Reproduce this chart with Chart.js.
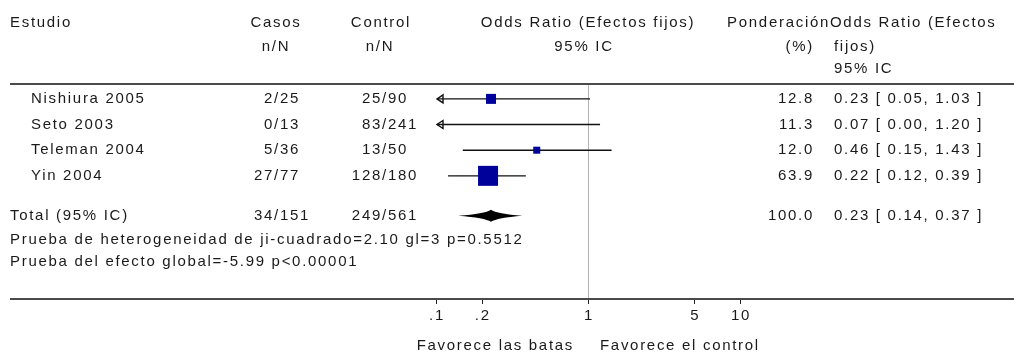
<!DOCTYPE html>
<html>
<head>
<meta charset="utf-8">
<script src="https://cdn.jsdelivr.net/npm/chart.js@4.4.1/dist/chart.umd.min.js"></script>
<style>
  html, body { margin: 0; padding: 0; background: #fff; }
  canvas { display: block; }
</style>
</head>
<body>
<canvas id="forest" width="1014" height="357"></canvas>
<script>
// data
const studies = ["Nishiura 2005", "Seto 2003", "Teleman 2004", "Yin 2004"];
const casos = ["2/25", "0/13", "5/36", "27/77"];
const control = ["25/90", "83/241", "13/50", "128/180"];
const weights = [12.8, 11.3, 12.0, 63.9];
const oddsRatio = [0.23, 0.07, 0.46, 0.22];
const ciLow = [0.05, 0.00, 0.15, 0.12];
const ciHigh = [1.03, 1.20, 1.43, 0.39];

const totalLabel = "Total (95% IC)";
const totalCasos = "34/151";
const totalControl = "249/561";
const totalWeight = 100.0;
const totalOR = 0.23;
const totalLow = 0.14;
const totalHigh = 0.37;

const heterogeneity = "Prueba de heterogeneidad de ji-cuadrado=2.10 gl=3 p=0.5512";
const overallEffect = "Prueba del efecto global=-5.99 p<0.00001";

const tickValues = [0.1, 0.2, 1, 5, 10];
const tickLabels = [".1", ".2", "1", "5", "10"];
const favourLeft = "Favorece las batas";
const favourRight = "Favorece el control";

// styling / layout
const FONT = "15px 'Liberation Sans', Arial, sans-serif";
const SPACING = "1.7px";
const TEXT = "#1a1a1a";
const BOX = "#00009a";
const boxSide = [10, 9, 7, 20]; // square side in px, as drawn in the picture
const totalRow = 5.56, hetRow = 6.49, overallRow = 7.35;
const casosSlash = 276, controlSlash = 384;

const fmt = (v) => v.toFixed(2);

function txt(ctx, s, x, y, align) {
  ctx.textAlign = align || "left";
  ctx.fillText(s, x, y);
}

// n/N drawn aligned on the slash
function frac(ctx, s, xs, y) {
  const [n, d] = s.split("/");
  txt(ctx, n, xs - 2, y, "right");
  txt(ctx, "/", xs + 1, y, "center");
  txt(ctx, d, xs + 4, y);
}

const forestPlugin = {
  id: "forest",
  beforeDatasetsDraw(chart) {
    const { ctx, chartArea: { top, bottom }, scales: { x, y } } = chart;
    ctx.save();
    // no-effect line
    const x1 = Math.round(x.getPixelForValue(1)) + 0.5;
    ctx.strokeStyle = "#b4b4b4";
    ctx.lineWidth = 1;
    ctx.beginPath();
    ctx.moveTo(x1, top);
    ctx.lineTo(x1, bottom);
    ctx.stroke();

    // confidence intervals
    ctx.strokeStyle = "#111";
    ctx.lineWidth = 1.4;
    studies.forEach((s, i) => {
      const yy = y.getPixelForValue(i + 1);
      const clipped = ciLow[i] < x.min;
      const xl = clipped ? x.left + 1 : x.getPixelForValue(ciLow[i]);
      const xr = x.getPixelForValue(Math.min(ciHigh[i], x.max));
      ctx.beginPath();
      ctx.moveTo(xl, yy);
      ctx.lineTo(xr, yy);
      ctx.stroke();
      if (clipped) {
        ctx.beginPath();
        ctx.moveTo(xl + 6, yy - 4);
        ctx.lineTo(xl, yy);
        ctx.lineTo(xl + 6, yy + 4);
        ctx.closePath();
        ctx.stroke();
      }
    });

    // pooled diamond
    const yt = y.getPixelForValue(totalRow);
    const xa = x.getPixelForValue(totalLow);
    const xm = x.getPixelForValue(totalOR);
    const xb = x.getPixelForValue(totalHigh);
    ctx.fillStyle = "#000";
    ctx.beginPath();
    ctx.moveTo(xa, yt);
    ctx.quadraticCurveTo(xm - 6, yt - 2, xm, yt - 6);
    ctx.quadraticCurveTo(xm + 6, yt - 2, xb, yt);
    ctx.quadraticCurveTo(xm + 6, yt + 2, xm, yt + 6);
    ctx.quadraticCurveTo(xm - 6, yt + 2, xa, yt);
    ctx.fill();
    ctx.restore();
  },
  afterDraw(chart) {
    const { ctx, width, chartArea: { top, bottom }, scales: { x, y } } = chart;
    ctx.save();
    // header rule and axis rule
    ctx.strokeStyle = "#4a4a4a";
    ctx.lineWidth = 2;
    ctx.beginPath();
    ctx.moveTo(10, top);
    ctx.lineTo(width, top);
    ctx.moveTo(10, bottom);
    ctx.lineTo(width, bottom);
    ctx.stroke();
    ctx.lineWidth = 1;
    ctx.strokeStyle = "#222";
    tickValues.forEach((v) => {
      const px = Math.round(x.getPixelForValue(v)) + 0.5;
      ctx.beginPath();
      ctx.moveTo(px, bottom + 1);
      ctx.lineTo(px, bottom + 5);
      ctx.stroke();
    });

    ctx.font = FONT;
    ctx.letterSpacing = SPACING;
    ctx.fillStyle = TEXT;
    ctx.textBaseline = "middle";

    // headers
    const h1 = 23, h2 = 47, h3 = 69;
    txt(ctx, "Estudio", 10, h1);
    txt(ctx, "Casos", 276, h1, "center");
    txt(ctx, "n/N", 276, h2, "center");
    txt(ctx, "Control", 381, h1, "center");
    txt(ctx, "n/N", 380, h2, "center");
    const x1 = x.getPixelForValue(1);
    txt(ctx, "Odds Ratio (Efectos fijos)", x1, h1, "center");
    txt(ctx, "95% IC", x1 - 4, h2, "center");
    txt(ctx, "Ponderación", 830, h1, "right");
    txt(ctx, "(%)", 814, h2, "right");
    txt(ctx, "Odds Ratio (Efectos", 830, h1);
    txt(ctx, "fijos)", 834, h2);
    txt(ctx, "95% IC", 834, h3);

    // study rows
    studies.forEach((s, i) => {
      const yy = y.getPixelForValue(i + 1);
      txt(ctx, s, 31, yy);
      frac(ctx, casos[i], casosSlash, yy);
      frac(ctx, control[i], controlSlash, yy);
      txt(ctx, weights[i].toFixed(1), 814, yy, "right");
      txt(ctx, `${fmt(oddsRatio[i])} [ ${fmt(ciLow[i])}, ${fmt(ciHigh[i])} ]`, 834, yy);
    });

    const yt = y.getPixelForValue(totalRow);
    txt(ctx, totalLabel, 10, yt);
    frac(ctx, totalCasos, casosSlash, yt);
    frac(ctx, totalControl, controlSlash, yt);
    txt(ctx, totalWeight.toFixed(1), 814, yt, "right");
    txt(ctx, `${fmt(totalOR)} [ ${fmt(totalLow)}, ${fmt(totalHigh)} ]`, 834, yt);
    txt(ctx, heterogeneity, 10, y.getPixelForValue(hetRow));
    txt(ctx, overallEffect, 10, y.getPixelForValue(overallRow));

    // axis labels
    tickValues.forEach((v, i) => {
      txt(ctx, tickLabels[i], x.getPixelForValue(v) + 1, bottom + 17, "center");
    });
    txt(ctx, favourLeft, x1 - 14, bottom + 47, "right");
    txt(ctx, favourRight, x1 + 12, bottom + 47);
    ctx.restore();
  },
};

new Chart(document.getElementById("forest"), {
  type: "scatter",
  data: {
    datasets: [
      {
        data: studies.map((s, i) => ({ x: oddsRatio[i], y: i + 1 })),
        pointStyle: "rect",
        pointRadius: boxSide.map((d) => d / Math.SQRT2),
        backgroundColor: BOX,
        borderColor: BOX,
        borderWidth: 0,
        clip: 0,
      },
    ],
  },
  options: {
    responsive: false,
    animation: false,
    events: [],
    layout: { padding: { left: 436, right: 274, top: 84, bottom: 58 } },
    scales: {
      x: { type: "logarithmic", min: 0.1, max: 10, display: false },
      y: { type: "linear", min: 0.42, max: 8.8, reverse: true, display: false },
    },
    plugins: { legend: { display: false }, tooltip: { enabled: false } },
  },
  plugins: [forestPlugin],
});
</script>
</body>
</html>
